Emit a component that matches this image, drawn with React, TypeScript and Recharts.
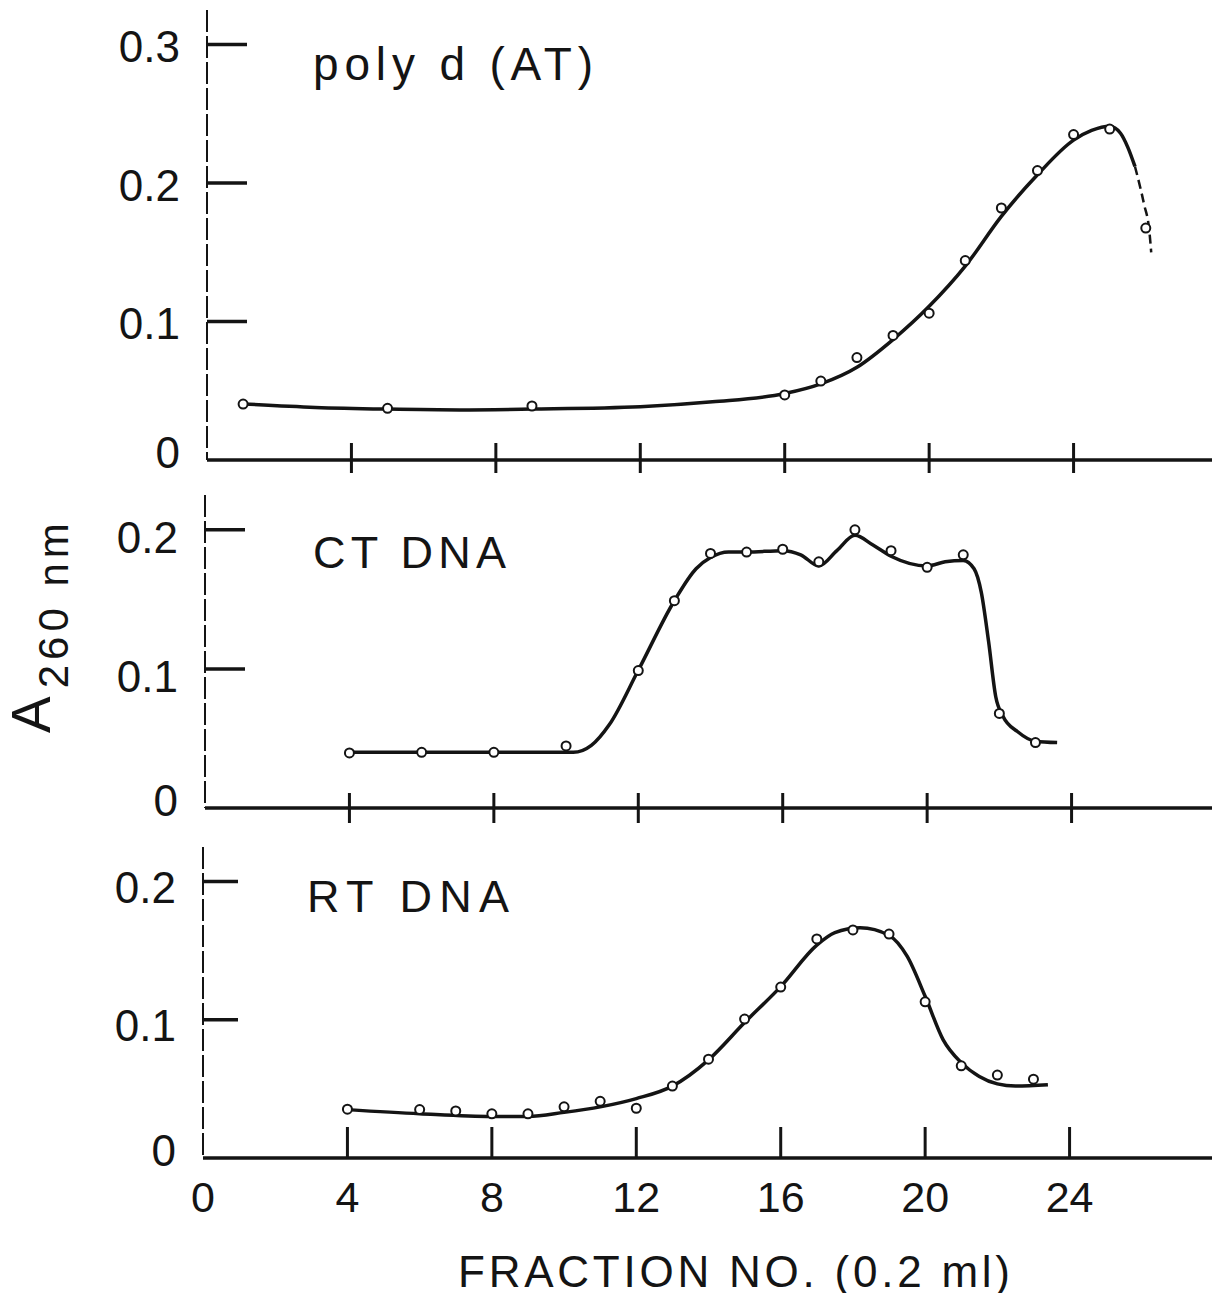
import React from "react";
import { ComposedChart, Line, Scatter, XAxis, YAxis } from "recharts";

const INK = "#141414";
const FONT = "'Liberation Sans', Arial, sans-serif";

// fraction numbers on the shared x axis
const xTickValues = [0, 4, 8, 12, 16, 20, 24];
const xTickLabels = ["0", "4", "8", "12", "16", "20", "24"];

// poly d(AT) - measured points
const atFractions = [1, 5, 9, 16, 17, 18, 19, 20, 21, 22, 23, 24, 25, 26];
const atValues = [0.0404, 0.0373, 0.039, 0.047, 0.057, 0.074, 0.09, 0.106, 0.144, 0.182, 0.209, 0.235, 0.239, 0.1675];
// hand-drawn curve (solid part, then the dashed tail)
const atCurveX = [1, 3, 5, 7, 9, 12, 14, 16, 17, 18, 19, 20, 21, 22, 23, 24, 24.5, 25, 25.3, 25.5, 25.7];
const atCurveY = [0.0405, 0.038, 0.0368, 0.0362, 0.0368, 0.0385, 0.042, 0.048, 0.055, 0.067, 0.087, 0.111, 0.14, 0.176, 0.206, 0.231, 0.238, 0.241, 0.236, 0.226, 0.212];
const atTailX = [25.7, 25.95, 26.1, 26.15];
const atTailY = [0.212, 0.185, 0.165, 0.15];

// CT DNA
const ctFractions = [4, 6, 8, 10, 12, 13, 14, 15, 16, 17, 18, 19, 20, 21, 22, 23];
const ctValues = [0.0396, 0.04, 0.04, 0.0446, 0.0988, 0.149, 0.183, 0.184, 0.186, 0.177, 0.2, 0.185, 0.173, 0.182, 0.068, 0.047];
const ctCurveX = [4, 10.2, 10.7, 11.2, 12, 13, 13.6, 14, 14.5, 15, 16, 16.5, 17, 17.5, 18, 18.5, 19, 20, 20.5, 21, 21.3, 21.5, 21.7, 21.9, 22.1, 22.5, 23, 23.6];
const ctCurveY = [0.04, 0.04, 0.045, 0.06, 0.099, 0.149, 0.172, 0.18, 0.184, 0.184, 0.185, 0.182, 0.174, 0.185, 0.196, 0.189, 0.181, 0.174, 0.177, 0.178, 0.172, 0.155, 0.12, 0.08, 0.066, 0.055, 0.048, 0.047];

// RT DNA
const rtFractions = [4, 6, 7, 8, 9, 10, 11, 12, 13, 14, 15, 16, 17, 18, 19, 20, 21, 22, 23];
const rtValues = [0.0353, 0.035, 0.034, 0.032, 0.032, 0.037, 0.041, 0.036, 0.052, 0.0715, 0.1005, 0.1237, 0.1585, 0.165, 0.162, 0.113, 0.0667, 0.06, 0.057];
const rtCurveX = [4, 6, 8, 9, 10, 11, 12, 13, 14, 15, 16, 17, 17.5, 18.2, 19, 19.5, 20, 20.5, 21, 21.5, 22, 22.5, 23.4];
const rtCurveY = [0.035, 0.032, 0.03, 0.03, 0.033, 0.037, 0.043, 0.052, 0.071, 0.098, 0.124, 0.154, 0.163, 0.1665, 0.161, 0.146, 0.117, 0.0855, 0.069, 0.059, 0.0536, 0.052, 0.053];

const zip = (xs: number[], ys: number[]) => xs.map((x, i) => ({ x, y: ys[i] }));

function makeXTick(up: number, down: number, showLabel: boolean) {
  return (props: any) => {
    const { x, y, payload } = props;
    const idx = xTickValues.indexOf(payload.value);
    return (
      <g>
        {payload.value !== 0 && (
          <line x1={x} x2={x} y1={y - up} y2={y + down} stroke={INK} strokeWidth={3} />
        )}
        {showLabel && (
          <text x={x} y={y + 39} textAnchor="middle" dominantBaseline="central" fontSize={43} fill={INK} fontFamily={FONT}>
            {xTickLabels[idx]}
          </text>
        )}
      </g>
    );
  };
}

function makeYTick(len: number, dy: number) {
  return (props: any) => {
    const { x, y, payload } = props;
    const v = payload.value;
    return (
      <g>
        {v !== 0 && <line x1={x} x2={x + len} y1={y} y2={y} stroke={INK} strokeWidth={3.5} />}
        <text x={x - 27} y={y + (v === 0 ? -8 : dy)} textAnchor="end" dominantBaseline="central" fontSize={44} fill={INK} fontFamily={FONT}>
          {v === 0 ? "0" : v.toFixed(1)}
        </text>
      </g>
    );
  };
}

const Ring = (props: any) => (
  <circle cx={props.cx} cy={props.cy} r={4.5} fill="#fff" stroke={INK} strokeWidth={2} />
);

interface PanelProps {
  top: number;
  height: number;
  left: number;
  marginTop: number;
  axisHeight: number;
  yMax: number;
  yTicks: number[];
  yTickLen: number;
  labelDy: number;
  xTicks: number[];
  tickUp: number;
  tickDown: number;
  showXLabels: boolean;
  points: { x: number; y: number }[];
  curve: { x: number; y: number }[];
  tail?: { x: number; y: number }[];
}

function Panel(p: PanelProps) {
  const plotWidth = 1011;
  return (
    <div style={{ position: "absolute", left: 0, top: p.top }}>
      <ComposedChart
        width={1220}
        height={p.height}
        margin={{ top: p.marginTop, right: 1220 - p.left - plotWidth, bottom: 0, left: 0 }}
      >
        <XAxis
          type="number"
          dataKey="x"
          domain={[0, 28]}
          ticks={p.xTicks}
          interval={0}
          height={p.axisHeight}
          tickSize={0}
          tickMargin={0}
          tickLine={false}
          axisLine={{ stroke: INK, strokeWidth: 3.5 }}
          tick={makeXTick(p.tickUp, p.tickDown, p.showXLabels)}
        />
        <YAxis
          type="number"
          dataKey="y"
          domain={[0, p.yMax]}
          ticks={p.yTicks}
          interval={0}
          width={p.left}
          tickSize={0}
          tickMargin={0}
          tickLine={false}
          axisLine={{ stroke: INK, strokeWidth: 2, strokeDasharray: "22 4" }}
          tick={makeYTick(p.yTickLen, p.labelDy)}
        />
        <Line
          data={p.curve}
          dataKey="y"
          type="monotone"
          stroke={INK}
          strokeWidth={3.5}
          dot={false}
          activeDot={false}
          isAnimationActive={false}
        />
        {p.tail && (
          <Line
            data={p.tail}
            dataKey="y"
            type="monotone"
            stroke={INK}
            strokeWidth={2.5}
            strokeDasharray="9 5"
            dot={false}
            activeDot={false}
            isAnimationActive={false}
          />
        )}
        <Scatter data={p.points} dataKey="y" shape={Ring} isAnimationActive={false} />
      </ComposedChart>
    </div>
  );
}

export default function App() {
  return (
    <div style={{ position: "relative", width: 1220, height: 1301, margin: -8, background: "#fff", overflow: "hidden" }}>
      <Panel
        top={0}
        height={480}
        left={207}
        marginTop={10}
        axisHeight={20}
        yMax={0.325}
        yTicks={[0, 0.1, 0.2, 0.3]}
        yTickLen={40}
        labelDy={2}
        xTicks={[4, 8, 12, 16, 20, 24]}
        tickUp={17}
        tickDown={13}
        showXLabels={false}
        points={zip(atFractions, atValues)}
        curve={zip(atCurveX, atCurveY)}
        tail={zip(atTailX, atTailY)}
      />
      <Panel
        top={480}
        height={360}
        left={205}
        marginTop={15}
        axisHeight={32}
        yMax={0.225}
        yTicks={[0, 0.1, 0.2]}
        yTickLen={40}
        labelDy={8}
        xTicks={[4, 8, 12, 16, 20, 24]}
        tickUp={15}
        tickDown={15}
        showXLabels={false}
        points={zip(ctFractions, ctValues)}
        curve={zip(ctCurveX, ctCurveY)}
      />
      <Panel
        top={840}
        height={461}
        left={203}
        marginTop={7}
        axisHeight={143}
        yMax={0.225}
        yTicks={[0, 0.1, 0.2]}
        yTickLen={35}
        labelDy={6}
        xTicks={xTickValues}
        tickUp={31}
        tickDown={0}
        showXLabels={true}
        points={zip(rtFractions, rtValues)}
        curve={zip(rtCurveX, rtCurveY)}
      />
      <svg width={1220} height={1301} style={{ position: "absolute", left: 0, top: 0, pointerEvents: "none" }}>
        <g fontFamily={FONT} fill={INK}>
          <text x={313} y={80} fontSize={46} textLength={280} lengthAdjust="spacing">poly d (AT)</text>
          <text x={313} y={568} fontSize={45} textLength={193} lengthAdjust="spacing">CT DNA</text>
          <text x={307} y={912} fontSize={45} textLength={202} lengthAdjust="spacing">RT DNA</text>
          <text x={458} y={1287} fontSize={44} textLength={552} lengthAdjust="spacing">FRACTION NO. (0.2 ml)</text>
          <text transform="translate(50,733) rotate(-90)">
            <tspan fontSize={55}>A</tspan>
            <tspan fontSize={42} dx={8} dy={18} letterSpacing={5}>260 nm</tspan>
          </text>
        </g>
      </svg>
    </div>
  );
}
